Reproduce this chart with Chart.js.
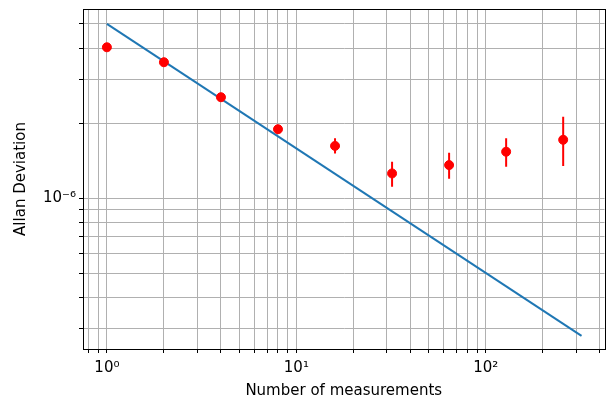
<!DOCTYPE html>
<html>
<head>
<meta charset="utf-8">
<script src="https://cdn.jsdelivr.net/npm/chart.js@4/dist/chart.umd.min.js"></script>
<style>
  html, body { margin: 0; padding: 0; background: #fff; }
  #wrap { width: 610px; height: 401px; }
</style>
</head>
<body>
<div id="wrap"><canvas id="grafico"></canvas></div>
<script>
// measured Allan deviation, with error bars
const nMeas = [1, 2, 4, 8, 16, 32, 64, 128, 256];
const adev = [4.03e-6, 3.51e-6, 2.54e-6, 1.89e-6, 1.62e-6, 1.256e-6, 1.357e-6, 1.535e-6, 1.714e-6];
const adevLow = [4.03e-6, 3.51e-6, 2.54e-6, 1.89e-6, 1.51e-6, 1.11e-6, 1.195e-6, 1.336e-6, 1.344e-6];
const adevHigh = [4.03e-6, 3.51e-6, 2.54e-6, 1.89e-6, 1.74e-6, 1.40e-6, 1.52e-6, 1.74e-6, 2.12e-6];

// reference 1/sqrt(N) line, endpoints
const refN = [1, 320];
const refDev = [5.0e-6, 2.8e-7];

// axis ticks (grid lines) and ranges
const xTicks = [0.8, 0.9, 1, 2, 3, 4, 5, 6, 7, 8, 9, 10, 20, 30, 40, 50, 60, 70, 80, 90, 100, 200, 300, 400];
const yTicks = [3e-7, 4e-7, 5e-7, 6e-7, 7e-7, 8e-7, 9e-7, 1e-6, 2e-6, 3e-6, 4e-6, 5e-6];
const xRange = [0.748, 423];
const yRange = [2.48e-7, 5.74e-6];

const sup = { '-': '⁻', '0': '⁰', '1': '¹', '2': '²', '3': '³', '4': '⁴', '5': '⁵', '6': '⁶', '7': '⁷', '8': '⁸', '9': '⁹' };
const decadeLabel = (v) => {
    const e = Math.log10(v);
    if (Math.abs(e - Math.round(e)) > 1e-9) return '';
    return '10' + String(Math.round(e)).split('').map(c => sup[c]).join('');
};

const errorSets = nMeas.map((n, i) => ({
    data: [{ x: n, y: adevLow[i] }, { x: n, y: adevHigh[i] }],
    showLine: true,
    borderColor: '#ff0000',
    borderWidth: 2,
    pointRadius: 0
}));

// matplotlib-style box around the axes
const frame = {
    id: 'frame',
    afterDatasetsDraw(chart) {
        const a = chart.chartArea;
        const ctx = chart.ctx;
        ctx.save();
        ctx.strokeStyle = '#000';
        ctx.lineWidth = 1;
        ctx.strokeRect(Math.round(a.left) + 0.5, Math.round(a.top) + 0.5, Math.round(a.right - a.left), Math.round(a.bottom - a.top));
        ctx.restore();
    }
};

const font = { family: 'DejaVu Sans', size: 15 };

new Chart(document.getElementById('grafico'), {
    type: 'scatter',
    data: {
        datasets: [
            {
                data: nMeas.map((n, i) => ({ x: n, y: adev[i] })),
                backgroundColor: '#ff0000',
                borderColor: '#ff0000',
                pointRadius: 4.5,
                showLine: false
            },
            {
                data: refN.map((n, i) => ({ x: n, y: refDev[i] })),
                showLine: true,
                borderColor: '#1f77b4',
                borderWidth: 2,
                pointRadius: 0
            },
            ...errorSets
        ]
    },
    options: {
        responsive: true,
        maintainAspectRatio: false,
        animation: false,
        layout: { padding: { top: 9, right: 4, left: 0, bottom: 0 } },
        plugins: { legend: { display: false }, tooltip: { enabled: false } },
        scales: {
            x: {
                type: 'logarithmic',
                bounds: 'data',
                min: xRange[0],
                max: xRange[1],
                afterBuildTicks: (s) => {
                    s.ticks = xTicks.map(v => ({ value: v }));
                    s.min = xRange[0];
                    s.max = xRange[1];
                },
                afterFit: (s) => { s.height = 52; s.paddingLeft = 0; s.paddingRight = 0; },
                grid: { color: '#b0b0b0', lineWidth: 1, tickColor: '#000', tickLength: 4 },
                border: { color: '#000', width: 1 },
                ticks: { autoSkip: false, maxRotation: 0, color: '#000', font: font, padding: 6, callback: (v) => decadeLabel(v) },
                title: { display: true, text: 'Number of measurements', color: '#000', font: font, padding: { top: 0, bottom: 1 } }
            },
            y: {
                type: 'logarithmic',
                bounds: 'data',
                min: yRange[0],
                max: yRange[1],
                afterBuildTicks: (s) => {
                    s.ticks = yTicks.map(v => ({ value: v }));
                    s.min = yRange[0];
                    s.max = yRange[1];
                },
                afterFit: (s) => { s.width = 83; s.paddingTop = 0; s.paddingBottom = 0; },
                grid: { color: '#b0b0b0', lineWidth: 1, tickColor: '#000', tickLength: 4 },
                border: { color: '#000', width: 1 },
                ticks: { autoSkip: false, color: '#000', font: font, padding: 3, callback: (v) => decadeLabel(v) },
                title: { display: true, text: 'Allan Deviation', color: '#000', font: font, padding: { top: 12, bottom: 0 } }
            }
        }
    },
    plugins: [frame]
});
</script>
</body>
</html>
